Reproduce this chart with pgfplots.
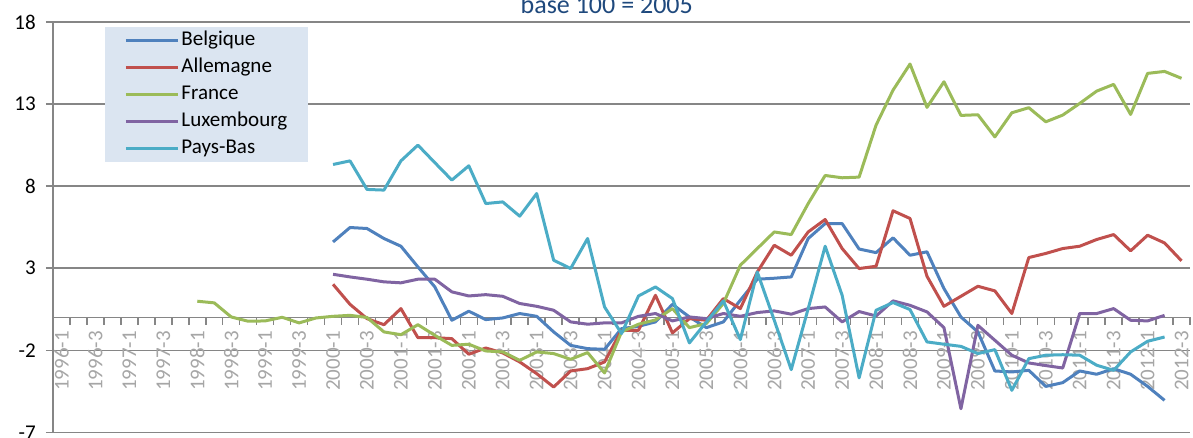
\documentclass[border=0pt]{standalone}
\usepackage{fontspec}
\setmainfont{Carlito}
\usepackage{pgfplots}
\pgfplotsset{compat=1.18}
\usepackage{pgfplotstable}

\definecolor{bel}{RGB}{79,129,189}
\definecolor{all}{RGB}{192,80,77}
\definecolor{fra}{RGB}{155,187,89}
\definecolor{lux}{RGB}{128,100,162}
\definecolor{nld}{RGB}{75,172,198}
\definecolor{gridc}{RGB}{134,134,134}
\definecolor{legfill}{RGB}{219,229,241}
\definecolor{titlec}{RGB}{31,73,125}
\definecolor{xlab}{RGB}{166,166,166}

% quarter index: 0 = 1996-1, 4 = 1997-1, ..., 66 = 2012-3
\pgfplotstableread{
i  be     de     fr     lu     nl
8  nan    nan    0.99   nan    nan
9  nan    nan    0.89   nan    nan
10 nan    nan    0.03   nan    nan
11 nan    nan   -0.23   nan    nan
12 nan    nan   -0.21   nan    nan
13 nan    nan    0.01   nan    nan
14 nan    nan   -0.33   nan    nan
15 nan    nan   -0.03   nan    nan
16 4.60   2.02   0.07   2.63   9.32
17 5.48   0.80   0.13   2.47   9.54
18 5.42  -0.07   0.00   2.33   7.80
19 4.81  -0.44  -0.88   2.17   7.76
20 4.34   0.54  -1.05   2.11   9.54
21 3.08  -1.23  -0.44   2.33  10.50
22 1.86  -1.23  -1.09   2.33   9.43
23 -0.17 -1.29  -1.70   1.56   8.37
24 0.38  -2.24  -1.63   1.31   9.24
25 -0.13 -1.86  -2.04   1.39   6.94
26 -0.03 -2.16  -2.10   1.29   7.04
27 0.24  -2.71  -2.61   0.85   6.17
28 0.07  -3.42  -2.10   0.68   7.55
29 -0.88 -4.24  -2.20   0.44   3.49
30 -1.70 -3.26  -2.55  -0.27   2.98
31 -1.90 -3.12  -2.14  -0.41   4.81
32 -1.94 -2.71  -3.38  -0.33   0.64
33 -0.68 -0.78  -0.88  -0.33  -0.98
34 -0.54 -0.78  -0.41   0.07   1.31
35 -0.27  1.35  -0.15   0.24   1.86
36 0.80  -0.94   0.54  -0.21   1.15
37 0.03  -0.07  -0.62   0.03  -1.55
38 -0.62 -0.17  -0.37  -0.07  -0.27
39 -0.27  1.15   0.85   0.24   1.01
40 1.05   0.54   3.18   0.07  -1.35
41 2.33   2.77   4.20   0.30   2.77
42 2.39   4.40   5.21   0.40  -0.17
43 2.47   3.79   5.05   0.20  -3.18
44 4.81   5.21   6.94   0.54   0.54
45 5.72   5.97   8.65   0.64   4.34
46 5.72   4.20   8.51  -0.27   1.35
47 4.17   2.98   8.55   0.36  -3.68
48 3.95   3.12  11.72   0.09   0.44
49 4.85   6.50  13.85   1.01   0.91
50 3.79   6.03  15.44   0.74   0.48
51 4.00   2.51  12.80   0.34  -1.49
52 1.76   0.68  14.36  -0.62  -1.63
53 0.03   1.29  12.31  -5.56  -1.76
54 -0.88  1.90  12.35  -0.48  -2.20
55 -3.26  1.62  11.00  -1.39  -1.96
56 -3.32  0.24  12.47  -2.30  -4.44
57 -3.22  3.65  12.78  -2.77  -2.51
58 -4.20  3.90  11.92  -2.93  -2.30
59 -3.97  4.20  12.33  -3.08  -2.27
60 -3.26  4.34  13.04   0.24  -2.30
61 -3.46  4.75  13.79   0.24  -2.91
62 -3.12  5.05  14.20   0.54  -3.22
63 -3.46  4.06  12.37  -0.17  -2.10
64 -4.20  5.01  14.87  -0.21  -1.45
65 -5.05  4.54  14.99   0.13  -1.19
66 nan    3.45  14.57   nan    nan
}\data

\begin{document}
\begin{tikzpicture}
\begin{axis}[
    width=568pt, height=205pt, scale only axis,
    xmin=-0.5, xmax=66.5, ymin=-7, ymax=18,
    clip=false,
    axis x line=middle, axis y line=left,
    axis line style={-, draw=gridc, line width=0.75pt},
    hide obscured x ticks=false,
    ytick={-7,-2,3,8,13,18},
    yticklabels={-7,-2,3,8,13,18},
    ymajorgrids, grid style={gridc, line width=0.75pt},
    xtick={-0.5,0.5,...,66.5},
    xticklabels={},
    extra x ticks={0,2,...,66},
    extra x tick labels={1996-1,1996-3,1997-1,1997-3,1998-1,1998-3,1999-1,1999-3,2000-1,2000-3,2001-1,2001-3,2002-1,2002-3,2003-1,2003-3,2004-1,2004-3,2005-1,2005-3,2006-1,2006-3,2007-1,2007-3,2008-1,2008-3,2009-1,2009-3,2010-1,2010-3,2011-1,2011-3,2012-1,2012-3},
    extra x tick style={major tick length=0pt, xticklabel style={rotate=90, anchor=east, inner sep=0pt, text=xlab, font=\fontsize{10.5}{12}\selectfont}},
    xticklabel shift=6.6pt,
    tick align=outside,
    major tick length=3.6pt,
    tick style={gridc, line width=0.75pt},
    yticklabel style={font=\fontsize{10.5}{12}\selectfont, text=black},
    yticklabel shift=1.5pt,
    legend style={at={(0.0457,0.988)}, anchor=north west, fill=legfill, draw=none,
        font=\fontsize{10.5}{12}\selectfont, inner xsep=9.5pt, inner ysep=0pt,
        nodes={inner xsep=1pt, inner ysep=1.75pt, text height=7.5pt, text depth=2.5pt},
        /tikz/every even column/.append style={column sep=2pt}},
    legend cell align=left,
    legend image code/.code={\draw[#1] (0pt,0pt) -- (26pt,0pt);},
    every axis plot/.append style={line width=1.5pt, line join=round, no markers},
]
\addplot[bel] table[x=i, y=be] {\data};
\addplot[all] table[x=i, y=de] {\data};
\addplot[fra] table[x=i, y=fr] {\data};
\addplot[lux] table[x=i, y=lu] {\data};
\addplot[nld] table[x=i, y=nl] {\data};
\legend{Belgique, Allemagne, France, Luxembourg, Pays-Bas}
\coordinate (bl) at (rel axis cs:0,0);
\coordinate (tr) at (rel axis cs:1,1);
\coordinate (tt) at (rel axis cs:0.487,1);
\end{axis}
\node[anchor=base, yshift=4.35pt, text=titlec, font=\fontsize{13}{15}\selectfont] at (tt) {base 100 = 2005};
\pgfresetboundingbox
\path[use as bounding box] ([shift={(-26.5pt,-2.5pt)}]bl) rectangle ([shift={(1.5pt,11pt)}]tr);
\end{tikzpicture}
\end{document}
